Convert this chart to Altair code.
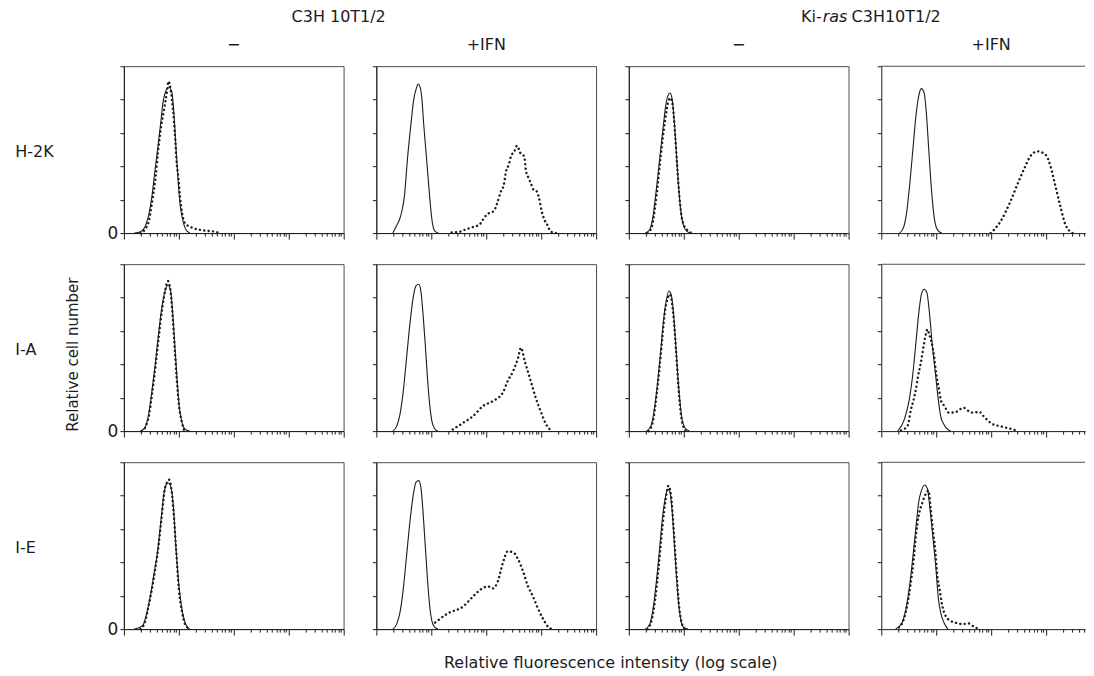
import math
import altair as alt
import pandas as pd

# ---------------- text ----------------
ROW_LABELS = ["H-2K", "I-A", "I-E"]
COL_LABELS = ["\u2212", "+IFN", "\u2212", "+IFN"]
GROUP_LEFT = "C3H 10T1/2"
GROUP_RIGHT_PARTS = ["Ki-", "ras", "C3H10T1/2"]
X_TITLE = "Relative fluorescence intensity (log scale)"
Y_TITLE = "Relative cell number"

# ---------------- axes ----------------
Y_TICKS = [0, 1, 2, 3, 4, 5]
DECADES = [0, 1, 2, 3, 4]
MINOR_MULTIPLIERS = [2, 3, 4, 5, 6, 7, 8, 9]

# ---------------- data: (log10 intensity, relative cell number) ----------------
# row H-2K
h2k_c3h_minus_solid = [(0.19, 0), (0.31, 0.05), (0.40, 0.25), (0.46, 0.6), (0.51, 1.1), (0.56, 1.8), (0.62, 2.6),
                       (0.67, 3.3), (0.71, 3.9), (0.76, 4.25), (0.815, 4.38), (0.87, 4.25), (0.91, 3.6), (0.95, 2.5),
                       (0.99, 1.5), (1.02, 0.9), (1.07, 0.4), (1.13, 0.1), (1.2, 0)]
h2k_c3h_minus_dotted = [(0.30, 0), (0.38, 0.1), (0.46, 0.4), (0.52, 1.0), (0.58, 1.7), (0.62, 2.4), (0.67, 3.1),
                        (0.73, 3.7), (0.79, 4.3), (0.81, 4.55), (0.85, 4.3), (0.89, 3.75), (0.935, 2.8), (0.96, 2.1),
                        (0.99, 1.7), (1.02, 1.1), (1.05, 0.7), (1.11, 0.3), (1.26, 0.15), (1.38, 0.1), (1.5, 0.07),
                        (1.63, 0.05), (1.75, 0)]
h2k_c3h_ifn_solid = [(0.30, 0), (0.36, 0.2), (0.42, 0.4), (0.47, 0.7), (0.51, 1.1), (0.57, 2.3), (0.625, 3.2),
                     (0.68, 4.0), (0.73, 4.35), (0.76, 4.47), (0.80, 4.35), (0.83, 4.0), (0.86, 3.3), (0.90, 2.5),
                     (0.94, 1.7), (0.98, 0.9), (1.02, 0.3), (1.07, 0.05), (1.13, 0)]
h2k_c3h_ifn_dotted = [(1.37, 0.02), (1.49, 0.03), (1.61, 0.1), (1.70, 0.15), (1.79, 0.2), (1.875, 0.25), (1.92, 0.35),
                      (1.98, 0.5), (2.05, 0.6), (2.13, 0.65), (2.19, 0.85), (2.26, 1.22), (2.32, 1.45), (2.36, 1.85),
                      (2.41, 2.05), (2.45, 2.3), (2.51, 2.45), (2.56, 2.62), (2.62, 2.4), (2.69, 2.3), (2.72, 1.9),
                      (2.77, 1.65), (2.81, 1.5), (2.86, 1.3), (2.92, 1.25), (2.96, 1.05), (3.01, 0.65), (3.05, 0.43),
                      (3.11, 0.25), (3.17, 0.05), (3.27, 0)]
h2k_ras_minus_solid = [(0.30, 0), (0.38, 0.1), (0.44, 0.5), (0.50, 1.3), (0.56, 2.2), (0.62, 3.1), (0.67, 3.8),
                       (0.72, 4.15), (0.75, 4.2), (0.79, 4.0), (0.83, 3.3), (0.87, 2.3), (0.91, 1.3), (0.95, 0.6),
                       (1.00, 0.2), (1.06, 0.05), (1.12, 0)]
h2k_ras_minus_dotted = [(0.34, 0), (0.42, 0.2), (0.48, 0.8), (0.53, 1.5), (0.58, 2.3), (0.63, 3.0), (0.68, 3.6),
                        (0.72, 3.95), (0.76, 4.05), (0.80, 3.8), (0.84, 3.0), (0.88, 2.0), (0.92, 1.1), (0.96, 0.5),
                        (1.00, 0.25), (1.06, 0.1), (1.14, 0)]
h2k_ras_ifn_solid = [(0.33, 0), (0.40, 0.15), (0.46, 0.6), (0.52, 1.5), (0.58, 2.6), (0.63, 3.5), (0.68, 4.1),
                     (0.73, 4.33), (0.78, 4.2), (0.82, 3.6), (0.86, 2.6), (0.90, 1.6), (0.94, 0.8), (0.98, 0.3),
                     (1.03, 0.08), (1.10, 0)]
h2k_ras_ifn_dotted = [(1.99, 0), (2.17, 0.35), (2.35, 0.95), (2.50, 1.55), (2.62, 2.0), (2.71, 2.3), (2.84, 2.45),
                      (2.99, 2.35), (3.08, 2.0), (3.17, 1.4), (3.26, 0.8), (3.35, 0.26), (3.48, 0)]

# row I-A
ia_c3h_minus_solid = [(0.30, 0), (0.38, 0.1), (0.45, 0.5), (0.51, 1.2), (0.57, 2.0), (0.63, 2.9), (0.69, 3.7),
                      (0.75, 4.2), (0.80, 4.38), (0.85, 4.2), (0.89, 3.5), (0.93, 2.5), (0.97, 1.5), (1.01, 0.7),
                      (1.06, 0.25), (1.12, 0.05), (1.2, 0)]
ia_c3h_minus_dotted = [(0.33, 0), (0.40, 0.15), (0.46, 0.5), (0.52, 1.2), (0.58, 2.0), (0.64, 2.9), (0.70, 3.7),
                       (0.75, 4.2), (0.80, 4.5), (0.84, 4.3), (0.88, 3.6), (0.92, 2.6), (0.96, 1.6), (1.0, 0.8),
                       (1.05, 0.3), (1.1, 0)]
ia_c3h_ifn_solid = [(0.30, 0), (0.37, 0.15), (0.43, 0.5), (0.49, 1.2), (0.55, 2.2), (0.61, 3.2), (0.67, 4.0),
                    (0.72, 4.35), (0.77, 4.4), (0.81, 4.2), (0.85, 3.5), (0.89, 2.6), (0.93, 1.6), (0.97, 0.8),
                    (1.01, 0.3), (1.06, 0.08), (1.12, 0)]
ia_c3h_ifn_dotted = [(1.39, 0.05), (1.58, 0.25), (1.76, 0.45), (1.94, 0.75), (2.12, 0.9), (2.30, 1.15), (2.39, 1.5),
                     (2.49, 1.8), (2.58, 2.2), (2.63, 2.5), (2.70, 2.1), (2.81, 1.5), (2.90, 1.0), (3.0, 0.55),
                     (3.09, 0.2), (3.19, 0)]
ia_ras_minus_solid = [(0.32, 0), (0.40, 0.15), (0.46, 0.6), (0.52, 1.4), (0.58, 2.4), (0.63, 3.3), (0.68, 3.9),
                      (0.73, 4.2), (0.77, 4.1), (0.81, 3.6), (0.85, 2.7), (0.89, 1.7), (0.93, 0.9), (0.97, 0.35),
                      (1.02, 0.1), (1.1, 0)]
ia_ras_minus_dotted = [(0.36, 0), (0.44, 0.3), (0.50, 1.0), (0.56, 1.9), (0.61, 2.8), (0.66, 3.6), (0.71, 4.0),
                       (0.74, 4.1), (0.78, 3.9), (0.82, 3.3), (0.86, 2.4), (0.90, 1.4), (0.94, 0.6), (0.98, 0.2),
                       (1.04, 0)]
ia_ras_ifn_solid = [(0.30, 0), (0.42, 0.35), (0.51, 0.95), (0.57, 1.65), (0.63, 2.65), (0.69, 3.65), (0.73, 4.1),
                    (0.78, 4.25), (0.83, 4.15), (0.87, 3.65), (0.93, 2.55), (0.99, 1.65), (1.03, 1.05), (1.08, 0.45),
                    (1.14, 0.2), (1.21, 0.05), (1.26, 0)]
ia_ras_ifn_dotted = [(0.36, 0.02), (0.48, 0.17), (0.54, 0.65), (0.59, 0.95), (0.63, 1.25), (0.67, 1.65), (0.72, 2.05),
                     (0.76, 2.45), (0.78, 2.65), (0.81, 2.9), (0.84, 3.05), (0.87, 2.9), (0.91, 2.7), (0.96, 2.25),
                     (1.0, 1.7), (1.05, 1.25), (1.09, 0.9), (1.15, 0.75), (1.23, 0.55), (1.35, 0.57), (1.50, 0.7),
                     (1.59, 0.6), (1.68, 0.55), (1.78, 0.58), (1.86, 0.45), (1.95, 0.3), (2.04, 0.2), (2.16, 0.15),
                     (2.28, 0.1), (2.40, 0.05), (2.49, 0)]

# row I-E
ie_c3h_minus_solid = [(0.19, 0), (0.34, 0.1), (0.43, 0.58), (0.49, 1.08), (0.55, 1.68), (0.61, 2.28), (0.67, 3.18),
                      (0.73, 4.08), (0.77, 4.33), (0.815, 4.38), (0.86, 4.23), (0.905, 3.58), (0.95, 2.38),
                      (1.01, 1.18), (1.07, 0.48), (1.13, 0.13), (1.2, 0)]
ie_c3h_minus_dotted = [(0.30, 0), (0.38, 0.2), (0.45, 0.7), (0.51, 1.2), (0.57, 1.8), (0.63, 2.5), (0.69, 3.4),
                       (0.74, 4.15), (0.79, 4.42), (0.82, 4.48), (0.86, 4.25), (0.9, 3.6), (0.95, 2.4), (1.0, 1.2),
                       (1.06, 0.5), (1.12, 0.12), (1.2, 0)]
ie_c3h_ifn_solid = [(0.30, 0), (0.37, 0.15), (0.43, 0.5), (0.49, 1.2), (0.55, 2.2), (0.61, 3.2), (0.67, 4.0),
                    (0.72, 4.4), (0.77, 4.45), (0.81, 4.25), (0.85, 3.5), (0.89, 2.5), (0.93, 1.5), (0.97, 0.7),
                    (1.01, 0.25), (1.06, 0.06), (1.12, 0)]
ie_c3h_ifn_dotted = [(1.07, 0.2), (1.30, 0.47), (1.58, 0.68), (1.76, 0.98), (1.90, 1.19), (2.03, 1.28), (2.12, 1.22),
                     (2.21, 1.43), (2.30, 1.97), (2.39, 2.33), (2.49, 2.3), (2.58, 2.09), (2.67, 1.73), (2.76, 1.28),
                     (2.85, 0.98), (2.94, 0.62), (3.03, 0.32), (3.12, 0.08), (3.19, 0)]
ie_ras_minus_solid = [(0.30, 0), (0.38, 0.15), (0.44, 0.6), (0.50, 1.4), (0.56, 2.4), (0.61, 3.3), (0.66, 3.9),
                      (0.71, 4.2), (0.75, 4.1), (0.79, 3.5), (0.83, 2.5), (0.87, 1.5), (0.91, 0.7), (0.95, 0.25),
                      (1.0, 0.05), (1.08, 0)]
ie_ras_minus_dotted = [(0.34, 0), (0.42, 0.3), (0.48, 0.9), (0.54, 1.8), (0.59, 2.7), (0.64, 3.5), (0.69, 4.1),
                       (0.72, 4.3), (0.76, 4.1), (0.80, 3.4), (0.84, 2.4), (0.88, 1.4), (0.92, 0.6), (0.96, 0.2),
                       (1.02, 0)]
ie_ras_ifn_solid = [(0.26, 0), (0.38, 0.2), (0.47, 0.8), (0.53, 1.5), (0.59, 2.4), (0.64, 3.2), (0.68, 3.8),
                    (0.73, 4.15), (0.79, 4.32), (0.84, 4.2), (0.88, 3.7), (0.93, 2.9), (0.99, 1.9), (1.04, 0.9),
                    (1.08, 0.5), (1.14, 0.2), (1.21, 0)]
ie_ras_ifn_dotted = [(0.32, 0.05), (0.41, 0.3), (0.47, 0.7), (0.53, 1.3), (0.59, 2.1), (0.63, 2.8), (0.68, 3.4),
                     (0.75, 3.8), (0.81, 4.05), (0.86, 4.15), (0.90, 3.6), (0.93, 3.1), (0.98, 2.4), (1.02, 1.6),
                     (1.06, 1.2), (1.11, 0.7), (1.17, 0.4), (1.26, 0.25), (1.38, 0.18), (1.47, 0.15), (1.59, 0.17),
                     (1.68, 0.08), (1.78, 0)]

PANELS = [
    [(h2k_c3h_minus_solid, h2k_c3h_minus_dotted), (h2k_c3h_ifn_solid, h2k_c3h_ifn_dotted),
     (h2k_ras_minus_solid, h2k_ras_minus_dotted), (h2k_ras_ifn_solid, h2k_ras_ifn_dotted)],
    [(ia_c3h_minus_solid, ia_c3h_minus_dotted), (ia_c3h_ifn_solid, ia_c3h_ifn_dotted),
     (ia_ras_minus_solid, ia_ras_minus_dotted), (ia_ras_ifn_solid, ia_ras_ifn_dotted)],
    [(ie_c3h_minus_solid, ie_c3h_minus_dotted), (ie_c3h_ifn_solid, ie_c3h_ifn_dotted),
     (ie_ras_minus_solid, ie_ras_minus_dotted), (ie_ras_ifn_solid, ie_ras_ifn_dotted)],
]

# ---------------- layout ----------------
W, H = 220, 167
DECADE_PX = W / 4
W_LAST = 204  # the right-hand column runs off the page edge in the original
COL_GAP, ROW_GAP = 32.7, 31.2
FONT = "DejaVu Sans"
INK = "#1c1c1c"
FRAME = "#3a3a3a"


def text_layer(s, x, y, size=16, angle=0, align="center", style="normal"):
    return alt.Chart(pd.DataFrame({"t": [s]})).mark_text(
        font=FONT, fontSize=size, angle=angle, align=align, baseline="middle",
        fontStyle=style, color=INK
    ).encode(text="t:N", x=alt.value(x), y=alt.value(y))


def panel(r, c):
    solid, dotted = PANELS[r][c]
    last = c == 3
    width = W_LAST if last else W
    xmax = width / DECADE_PX
    minor_ticks = [d + math.log10(m) for d in DECADES[:-1] for m in MINOR_MULTIPLIERS
                   if d + math.log10(m) <= xmax]
    major_ticks = [d for d in DECADES if d <= xmax]

    ds = pd.DataFrame(solid, columns=["x", "y"])
    dd = pd.DataFrame(dotted, columns=["x", "y"])
    xscale = alt.Scale(domain=[0, xmax], nice=False, zero=False)
    yscale = alt.Scale(domain=[0, 5], nice=False, zero=True)
    yaxis_kw = dict(values=Y_TICKS, title=None, grid=False, tickSize=4, domainColor=INK, tickColor=INK)
    if c == 0:
        yaxis_kw.update(labelExpr="datum.value == 0 ? '0' : ''", labelFontSize=17, labelFont=FONT,
                        labelPadding=2, labelColor=INK)
    else:
        yaxis_kw.update(labels=False)
    yaxis = alt.Axis(**yaxis_kw)
    major_axis = alt.Axis(values=major_ticks, orient="bottom", labels=False, title=None, grid=False,
                          tickSize=6, domainColor=INK, tickColor=INK)
    minor_axis = alt.Axis(values=minor_ticks, orient="bottom", labels=False, title=None, grid=False,
                          tickSize=3, domain=False, tickColor=INK)

    solid_layer = alt.Chart(ds).mark_line(color=INK, strokeWidth=1.1, interpolate="monotone").encode(
        x=alt.X("x:Q", scale=xscale, axis=major_axis),
        y=alt.Y("y:Q", scale=yscale, axis=yaxis),
    )
    dotted_layer = alt.Chart(dd).mark_line(
        color=INK, strokeWidth=2.4, strokeDash=[0.1, 4.3], strokeCap="round", interpolate="monotone"
    ).encode(
        x=alt.X("x:Q", scale=xscale, axis=minor_axis),
        y=alt.Y("y:Q", scale=yscale, axis=yaxis),
    )
    layers = [solid_layer, dotted_layer]

    if last:
        layers.append(
            alt.Chart(pd.DataFrame({"a": [0]})).mark_rule(color=FRAME, strokeWidth=0.9).encode(
                x=alt.value(0), x2=alt.value(width), y=alt.value(0)
            )
        )

    if r == 0:
        layers.append(text_layer(COL_LABELS[c], W / 2, -21.5))
        if c == 0:
            layers.append(text_layer(GROUP_LEFT, 215, -49.3))
        if c == 2:
            split = 193
            layers.append(text_layer(GROUP_RIGHT_PARTS[0], split, -49.3, align="right"))
            layers.append(text_layer(GROUP_RIGHT_PARTS[1], split + 1, -49.3, align="left", style="italic"))
            layers.append(text_layer(GROUP_RIGHT_PARTS[2], split + 30, -49.3, align="left"))
    if c == 0:
        layers.append(text_layer(ROW_LABELS[r], -108.7, H / 2 + 2, align="left"))
        if r == 1:
            layers.append(text_layer(Y_TITLE, -51, 90.5, size=15, angle=270))
    if r == 2 and c == 1:
        layers.append(text_layer(X_TITLE, 234.6, 201, size=16))

    props = dict(width=width, height=H)
    if last:
        props["view"] = alt.ViewBackground(stroke="transparent")
    return alt.layer(*layers).resolve_axis(x="independent").properties(**props)


charts = [panel(r, c) for r in range(3) for c in range(4)]
chart = alt.concat(*charts, columns=4, spacing={"row": ROW_GAP, "column": COL_GAP}, bounds="flush")
chart = chart.configure_view(stroke=FRAME, strokeWidth=0.9).configure_axis(
    domainWidth=1, tickWidth=1
).properties(padding={"left": 6, "top": 0, "right": 0, "bottom": 4}, background="white")

chart.save("out.html", embed_options={"renderer": "svg", "actions": False})
